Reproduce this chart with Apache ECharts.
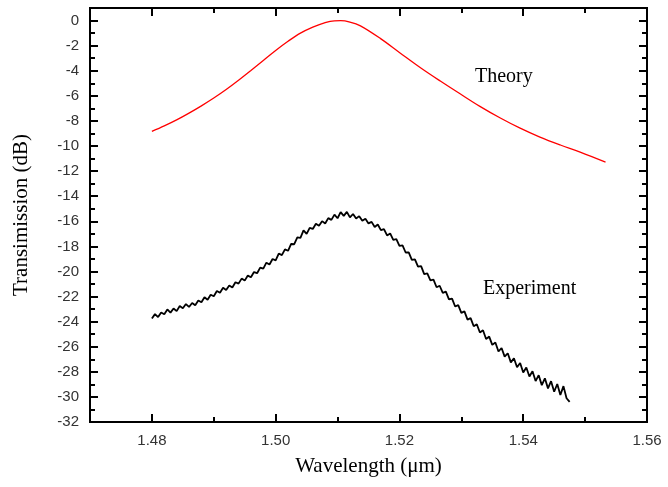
<!DOCTYPE html>
<html>
<head>
<meta charset="utf-8">
<title>Transmission spectrum</title>
<script src="https://cdn.jsdelivr.net/npm/echarts@6/dist/echarts.min.js"></script>
<style>
  html, body { margin: 0; padding: 0; background: #fff; }
  #chart { width: 668px; height: 487px; }
</style>
</head>
<body>
<div id="chart"></div>
<script>
// tick positions
var xMajor = [1.48, 1.50, 1.52, 1.54, 1.56];
var xMinor = [1.47, 1.49, 1.51, 1.53, 1.55];
var yMajor = [-32, -30, -28, -26, -24, -22, -20, -18, -16, -14, -12, -10, -8, -6, -4, -2, 0];
var yMinor = [-31, -29, -27, -25, -23, -21, -19, -17, -15, -13, -11, -9, -7, -5, -3, -1];

// theory curve
var theoryX = [1.4800, 1.4820, 1.4840, 1.4860, 1.4880, 1.4900, 1.4920, 1.4940, 1.4960, 1.4980,
    1.5000, 1.5020, 1.5040, 1.5060, 1.5080, 1.5095, 1.5105, 1.5120, 1.5137, 1.5169,
    1.5201, 1.5234, 1.5266, 1.5298, 1.5330, 1.5363, 1.5395, 1.5427, 1.5460, 1.5492,
    1.5533];
var theoryY = [-8.84, -8.40, -7.92, -7.38, -6.80, -6.18, -5.50, -4.76, -3.98, -3.18,
    -2.38, -1.65, -1.00, -0.52, -0.16, -0.02, -0.01, -0.12, -0.42, -1.42,
    -2.58, -3.76, -4.82, -5.84, -6.84, -7.77, -8.58, -9.29, -9.92, -10.48,
    -11.28];

// experiment (noisy trace)
var expX = [1.4800, 1.4805, 1.4810, 1.4815, 1.4820, 1.4825, 1.4830, 1.4835, 1.4840, 1.4845,
    1.4850, 1.4855, 1.4860, 1.4865, 1.4870, 1.4875, 1.4880, 1.4885, 1.4890, 1.4895,
    1.4900, 1.4905, 1.4910, 1.4915, 1.4920, 1.4925, 1.4930, 1.4935, 1.4940, 1.4945,
    1.4950, 1.4955, 1.4960, 1.4965, 1.4970, 1.4975, 1.4980, 1.4985, 1.4990, 1.4995,
    1.5000, 1.5005, 1.5010, 1.5015, 1.5020, 1.5025, 1.5030, 1.5035, 1.5040, 1.5045,
    1.5050, 1.5055, 1.5060, 1.5065, 1.5070, 1.5075, 1.5080, 1.5085, 1.5090, 1.5095,
    1.5100, 1.5105, 1.5110, 1.5115, 1.5120, 1.5125, 1.5130, 1.5135, 1.5140, 1.5145,
    1.5150, 1.5155, 1.5160, 1.5165, 1.5170, 1.5175, 1.5180, 1.5185, 1.5190, 1.5195,
    1.5200, 1.5205, 1.5210, 1.5215, 1.5220, 1.5225, 1.5230, 1.5235, 1.5240, 1.5245,
    1.5250, 1.5255, 1.5260, 1.5265, 1.5270, 1.5275, 1.5280, 1.5285, 1.5290, 1.5295,
    1.5300, 1.5305, 1.5310, 1.5315, 1.5320, 1.5325, 1.5330, 1.5335, 1.5340, 1.5345,
    1.5350, 1.5355, 1.5360, 1.5365, 1.5370, 1.5375, 1.5380, 1.5385, 1.5390, 1.5395,
    1.5400, 1.5405, 1.5410, 1.5415, 1.5420, 1.5425, 1.5430, 1.5435, 1.5440, 1.5445,
    1.5450, 1.5455, 1.5460, 1.5465, 1.5470, 1.5475];
var expY = [-23.75, -23.40, -23.64, -23.27, -23.41, -23.03, -23.28, -22.95, -23.16, -22.76,
    -22.93, -22.60, -22.83, -22.51, -22.70, -22.32, -22.46, -22.06, -22.26, -21.86,
    -21.98, -21.56, -21.70, -21.30, -21.48, -21.12, -21.28, -20.86, -20.97, -20.57,
    -20.73, -20.33, -20.46, -20.05, -20.14, -19.69, -19.78, -19.30, -19.45, -19.01,
    -19.12, -18.57, -18.70, -18.24, -18.35, -17.81, -17.83, -17.29, -17.32, -16.73,
    -17.00, -16.53, -16.61, -16.20, -16.36, -15.99, -16.18, -15.75, -15.89, -15.47,
    -15.76, -15.27, -15.57, -15.25, -15.69, -15.42, -15.78, -15.59, -15.96, -15.80,
    -16.17, -16.05, -16.46, -16.26, -16.71, -16.62, -17.13, -16.97, -17.48, -17.43,
    -17.96, -17.92, -18.49, -18.48, -19.08, -19.03, -19.62, -19.57, -20.21, -20.16,
    -20.72, -20.65, -21.26, -21.14, -21.70, -21.61, -22.22, -22.16, -22.79, -22.68,
    -23.30, -23.18, -23.84, -23.72, -24.37, -24.21, -24.87, -24.69, -25.39, -25.19,
    -25.85, -25.66, -26.38, -26.10, -26.79, -26.52, -27.25, -26.92, -27.64, -27.29,
    -28.06, -27.65, -28.37, -27.96, -28.74, -28.27, -29.06, -28.52, -29.32, -28.75,
    -29.59, -28.97, -29.85, -29.14, -30.11, -30.40];

function zip(a, b) {
    return a.map(function (v, i) { return [v, b[i]]; });
}

var lineStyle = { color: "#000", width: 2 };
var serif = "'Liberation Serif', 'Times New Roman', serif";
var sans = "'Liberation Sans', Arial, sans-serif";
var gridBox = { left: 90, right: 21, top: 8, bottom: 65 };

// axis that only draws inward ticks (box sides and minor ticks)
function tickAxis(grid, pos, min, max, values, len) {
    return {
        type: "value",
        gridIndex: grid,
        position: pos,
        min: min,
        max: max,
        axisLine: { show: false, onZero: false },
        axisTick: { show: true, inside: true, length: len, customValues: values, lineStyle: lineStyle },
        axisLabel: { show: false },
        splitLine: { show: false }
    };
}

var chart = echarts.init(document.getElementById("chart"));
chart.setOption({
    animation: false,
    backgroundColor: "#fff",
    grid: [
        Object.assign({ show: true, borderColor: "#000", borderWidth: 2 }, gridBox),
        Object.assign({}, gridBox)
    ],
    xAxis: [
        {
            type: "value",
            gridIndex: 0,
            position: "bottom",
            min: 1.47,
            max: 1.56,
            name: "Wavelength (\u03bcm)",
            nameLocation: "middle",
            nameGap: 34,
            nameTextStyle: { fontFamily: serif, fontSize: 21, color: "#000" },
            axisLine: { show: true, onZero: false, lineStyle: lineStyle },
            axisTick: { show: true, inside: true, length: 8, customValues: xMajor, lineStyle: lineStyle },
            axisLabel: {
                customValues: xMajor,
                margin: 11,
                fontFamily: sans,
                fontSize: 15,
                color: "#333",
                formatter: function (v) { return v.toFixed(2); }
            },
            splitLine: { show: false }
        },
        tickAxis(0, "top", 1.47, 1.56, xMajor, 8),
        tickAxis(1, "bottom", 1.47, 1.56, xMinor, 5),
        tickAxis(1, "top", 1.47, 1.56, xMinor, 5)
    ],
    yAxis: [
        {
            type: "value",
            gridIndex: 0,
            position: "left",
            min: -32,
            max: 1,
            name: "Transimission (dB)",
            nameLocation: "middle",
            nameGap: 58,
            nameTextStyle: { fontFamily: serif, fontSize: 21, color: "#000" },
            axisLine: { show: true, onZero: false, lineStyle: lineStyle },
            axisTick: { show: true, inside: true, length: 8, customValues: yMajor, lineStyle: lineStyle },
            axisLabel: {
                customValues: yMajor,
                margin: 11,
                fontFamily: sans,
                fontSize: 15,
                color: "#333"
            },
            splitLine: { show: false }
        },
        tickAxis(0, "right", -32, 1, yMajor, 8),
        tickAxis(1, "left", -32, 1, yMinor, 5),
        tickAxis(1, "right", -32, 1, yMinor, 5)
    ],
    series: [
        {
            name: "Theory",
            type: "line",
            xAxisIndex: 0,
            yAxisIndex: 0,
            data: zip(theoryX, theoryY),
            smooth: 0.35,
            showSymbol: false,
            lineStyle: { color: "#ff0000", width: 1.3 }
        },
        {
            name: "Experiment",
            type: "line",
            xAxisIndex: 0,
            yAxisIndex: 0,
            data: zip(expX, expY),
            showSymbol: false,
            lineStyle: { color: "#000", width: 1.8 }
        }
    ],
    graphic: [
        {
            type: "text",
            left: 475,
            top: 67,
            style: { text: "Theory", fontFamily: serif, fontSize: 20, fill: "#000" }
        },
        {
            type: "text",
            left: 483,
            top: 279,
            style: { text: "Experiment", fontFamily: serif, fontSize: 20, fill: "#000" }
        }
    ]
});
</script>
</body>
</html>
